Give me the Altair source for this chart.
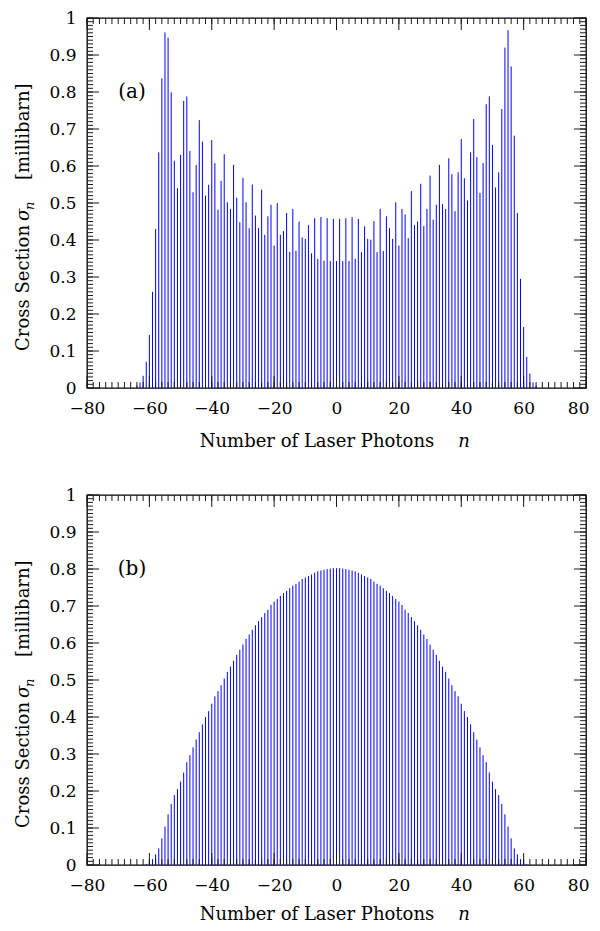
import altair as alt
import pandas as pd

# ---------------- data ----------------
n_a = list(range(-64, 65))
sigma_a = [
    0.006, 0.015, 0.033, 0.071, 0.143, 0.260, 0.430, 0.637, 0.837, 0.961,   # -64..-55
    0.947, 0.799, 0.614, 0.540, 0.630, 0.776, 0.788, 0.641, 0.529, 0.603,   # -54..-45
    0.724, 0.666, 0.520, 0.549, 0.670, 0.608, 0.482, 0.560, 0.632, 0.502,   # -44..-35
    0.484, 0.603, 0.514, 0.448, 0.568, 0.502, 0.432, 0.550, 0.466, 0.432,   # -34..-25
    0.536, 0.414, 0.464, 0.495, 0.385, 0.500, 0.414, 0.424, 0.473, 0.368,   # -24..-15
    0.484, 0.371, 0.450, 0.407, 0.403, 0.440, 0.364, 0.459, 0.349, 0.462,   # -14..-5
    0.344, 0.459, 0.343, 0.457, 0.343, 0.457, 0.343, 0.459, 0.343, 0.462,   # -4..5
    0.349, 0.457, 0.367, 0.437, 0.403, 0.401, 0.451, 0.367, 0.484, 0.370,   # 6..15
    0.464, 0.432, 0.403, 0.502, 0.385, 0.484, 0.469, 0.405, 0.532, 0.440,   # 16..25
    0.450, 0.552, 0.438, 0.484, 0.574, 0.455, 0.495, 0.603, 0.497, 0.484,   # 26..35
    0.621, 0.578, 0.478, 0.583, 0.673, 0.567, 0.507, 0.637, 0.727, 0.624,   # 36..45
    0.527, 0.608, 0.767, 0.788, 0.657, 0.542, 0.583, 0.754, 0.920, 0.967,   # 46..55
    0.869, 0.682, 0.473, 0.295, 0.165, 0.084, 0.039, 0.015, 0.006,         # 56..64
]

n_b = list(range(-61, 62))
sigma_b = [
    0.003, 0.009, 0.016, 0.029, 0.045, 0.072, 0.104, 0.137, 0.165, 0.189,   # -61..-52
    0.205, 0.225, 0.250, 0.278, 0.297, 0.318, 0.339, 0.359, 0.380, 0.400,   # -51..-42
    0.416, 0.436, 0.456, 0.470, 0.486, 0.504, 0.522, 0.536, 0.552, 0.568,   # -41..-32
    0.582, 0.596, 0.611, 0.623, 0.636, 0.648, 0.659, 0.670, 0.681, 0.690,   # -31..-22
    0.703, 0.712, 0.719, 0.727, 0.735, 0.741, 0.748, 0.755, 0.760, 0.766,   # -21..-12
    0.773, 0.777, 0.781, 0.785, 0.790, 0.794, 0.796, 0.798, 0.800, 0.801,   # -11..-2
    0.802, 0.802, 0.802,                                                    # -1..1
    0.801, 0.800, 0.798, 0.796, 0.794, 0.790, 0.785, 0.781, 0.777, 0.773,   # 2..11
    0.766, 0.760, 0.755, 0.748, 0.741, 0.735, 0.727, 0.719, 0.712, 0.703,   # 12..21
    0.690, 0.681, 0.670, 0.659, 0.648, 0.636, 0.623, 0.611, 0.596, 0.582,   # 22..31
    0.568, 0.552, 0.536, 0.522, 0.504, 0.486, 0.470, 0.456, 0.436, 0.416,   # 32..41
    0.400, 0.380, 0.359, 0.339, 0.318, 0.297, 0.278, 0.250, 0.225, 0.205,   # 42..51
    0.189, 0.165, 0.137, 0.104, 0.072, 0.045, 0.029, 0.016, 0.009, 0.003,   # 52..61
]

x_major = [-80, -60, -40, -20, 0, 20, 40, 60, 80]
x_minor = list(range(-80, 81, 2))
y_major = [round(i / 10, 1) for i in range(11)]
y_minor = [round(i / 100, 2) for i in range(101)]

panel_labels = ["(a)", "(b)"]
x_title = "Number of Laser Photons"
x_title_var = "n"
y_title_a = "Cross Section"
y_title_sym = "σ"
y_title_sub = "n"
y_title_unit = "[millibarn]"

# ---------------- chart ----------------
W, H = 499, 370
FONT = "DejaVu Serif"
BLUE = "#0000ff"
TICK = "#1a1a1a"

xs = alt.Scale(domain=[-80, 80], nice=False, zero=False)
ys = alt.Scale(domain=[0, 1], nice=False, zero=False)

AX = alt.Axis(
    values=x_major, ticks=False, domain=False, grid=False,
    labelPadding=12, title=None, labelFlush=False,
    labelAlign={"condition": {"test": "datum.value == 80", "value": "right"}, "value": "center"},
    labelOffset={"condition": {"test": "datum.value == 80", "value": 3}, "value": 0},
)
AY = alt.Axis(values=y_major, ticks=False, domain=False, grid=False,
              labelPadding=11, title=None, format="~g", labelFlush=False)


def tick_x(vals, y0, y1):
    return alt.Chart(pd.DataFrame({"t": vals})).mark_rule(
        color=TICK, strokeWidth=1
    ).encode(
        x=alt.X("t:Q", scale=xs, axis=AX),
        y=alt.value(y0),
        y2=alt.value(y1),
    )


def tick_y(vals, x0, x1):
    return alt.Chart(pd.DataFrame({"t": vals})).mark_rule(
        color=TICK, strokeWidth=1
    ).encode(
        y=alt.Y("t:Q", scale=ys, axis=AY),
        x=alt.value(x0),
        x2=alt.value(x1),
    )


def text_at(txt, x, y, size=18, align="center", angle=0, style="normal", baseline="alphabetic"):
    kw = dict(text=txt, font=FONT, fontSize=size, align=align,
              baseline=baseline, fontStyle=style, color="black")
    if angle:
        kw["angle"] = angle
    return alt.Chart(pd.DataFrame({"d": [0]})).mark_text(**kw).encode(
        x=alt.value(x), y=alt.value(y)
    )


def panel(n, s, label, title_off):
    df = pd.DataFrame({"n": n, "s": s})
    bars = alt.Chart(df).mark_rule(color=BLUE, strokeWidth=1).encode(
        x=alt.X("n:Q", scale=xs, axis=AX),
        y=alt.Y("s:Q", scale=ys, axis=AY),
        y2=alt.datum(0),
    )
    layers = [
        bars,
        tick_x(x_minor, H, H - 6), tick_x(x_minor, 0, 6),
        tick_x(x_major, H, H - 12), tick_x(x_major, 0, 12),
        tick_y(y_minor, 0, 6), tick_y(y_minor, W, W - 6),
        tick_y(y_major, 0, 12), tick_y(y_major, W, W - 12),
        text_at(label, 45, 74, size=20, baseline="middle"),
        # x-axis title
        text_at(x_title, 230, H + title_off),
        text_at(x_title_var, 377, H + title_off, style="italic"),
        # y-axis title (rotated)
        text_at(y_title_a, -58, 207, align="right", angle=270),
        text_at(y_title_sym, -58, 203, align="left", angle=270, style="italic"),
        text_at(y_title_sub, -53, 192, size=13, align="left", angle=270, style="italic"),
        text_at(y_title_unit, -58, 162, align="left", angle=270),
    ]
    return alt.layer(*layers).properties(width=W, height=H)


chart = alt.vconcat(
    panel(n_a, sigma_a, panel_labels[0], 59),
    panel(n_b, sigma_b, panel_labels[1], 55),
    spacing=107,
    bounds="flush",
).configure_view(
    stroke="black", strokeWidth=1.3
).configure_axis(
    labelFont=FONT, labelFontSize=17, labelColor="black"
).properties(
    padding={"left": 6, "top": 0, "right": 0, "bottom": 0}
)

chart.save("out.html", embed_options={"renderer": "svg", "actions": False})
